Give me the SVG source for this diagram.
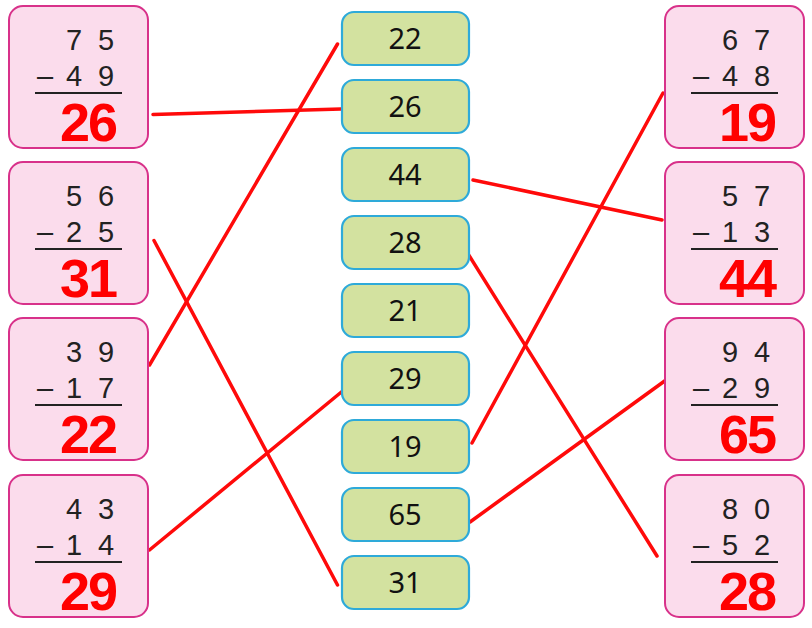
<svg xmlns="http://www.w3.org/2000/svg" width="812" height="628" viewBox="0 0 812 628">
<style>
.pb{fill:#fbdcec;stroke:#d8318a;stroke-width:2}
.gb{fill:#d3e2a0;stroke:#2eaad9;stroke-width:2.2}
.d{font-family:"Liberation Sans",Arial,sans-serif;font-size:29px;fill:#222;text-anchor:middle}
.a{font-family:"Liberation Sans",Arial,sans-serif;font-weight:bold;font-size:54px;fill:#ff0000;text-anchor:middle;letter-spacing:-2px}
.m{font-family:"Noto Sans","Liberation Sans",sans-serif;font-size:29px;fill:#111;text-anchor:middle}
.r{stroke:#222;stroke-width:2}
.c line{stroke:#ff0a0a;stroke-width:3.5;stroke-linecap:round}
</style>
<rect width="812" height="628" fill="#fff"/>
<g class="c" id="connectors">
<line x1="153" y1="114.5" x2="341" y2="109"/>
<line x1="154" y1="240.5" x2="337.5" y2="585"/>
<line x1="149.5" y1="365" x2="337.5" y2="44"/>
<line x1="149.5" y1="550" x2="342" y2="391.5"/>
<line x1="663" y1="93" x2="472" y2="443"/>
<line x1="473" y1="180" x2="662" y2="220"/>
<line x1="470" y1="522" x2="666" y2="380"/>
<line x1="460" y1="241" x2="657" y2="556"/>
</g>
<g id="L1"><rect class="pb" x="9" y="6" width="139" height="142" rx="14"/>
<text class="d" x="74" y="50">7</text><text class="d" x="106" y="50">5</text>
<text class="d" x="45" y="86">–</text><text class="d" x="74" y="86">4</text><text class="d" x="106" y="86">9</text>
<line class="r" x1="35" y1="93" x2="122" y2="93"/><text class="a" x="88" y="141">26</text></g>
<g id="L2"><rect class="pb" x="9" y="162" width="139" height="142" rx="14"/>
<text class="d" x="74" y="206">5</text><text class="d" x="106" y="206">6</text>
<text class="d" x="45" y="242">–</text><text class="d" x="74" y="242">2</text><text class="d" x="106" y="242">5</text>
<line class="r" x1="35" y1="249" x2="122" y2="249"/><text class="a" x="88" y="297">31</text></g>
<g id="L3"><rect class="pb" x="9" y="318" width="139" height="142" rx="14"/>
<text class="d" x="74" y="362">3</text><text class="d" x="106" y="362">9</text>
<text class="d" x="45" y="398">–</text><text class="d" x="74" y="398">1</text><text class="d" x="106" y="398">7</text>
<line class="r" x1="35" y1="405" x2="122" y2="405"/><text class="a" x="88" y="453">22</text></g>
<g id="L4"><rect class="pb" x="9" y="475" width="139" height="142" rx="14"/>
<text class="d" x="74" y="519">4</text><text class="d" x="106" y="519">3</text>
<text class="d" x="45" y="555">–</text><text class="d" x="74" y="555">1</text><text class="d" x="106" y="555">4</text>
<line class="r" x1="35" y1="562" x2="122" y2="562"/><text class="a" x="88" y="610">29</text></g>
<g id="R1"><rect class="pb" x="665" y="6" width="139" height="142" rx="14"/>
<text class="d" x="730" y="50">6</text><text class="d" x="762" y="50">7</text>
<text class="d" x="701" y="86">–</text><text class="d" x="730" y="86">4</text><text class="d" x="762" y="86">8</text>
<line class="r" x1="691" y1="93" x2="778" y2="93"/><text class="a" x="747" y="141">19</text></g>
<g id="R2"><rect class="pb" x="665" y="162" width="139" height="142" rx="14"/>
<text class="d" x="730" y="206">5</text><text class="d" x="762" y="206">7</text>
<text class="d" x="701" y="242">–</text><text class="d" x="730" y="242">1</text><text class="d" x="762" y="242">3</text>
<line class="r" x1="691" y1="249" x2="778" y2="249"/><text class="a" x="747" y="297">44</text></g>
<g id="R3"><rect class="pb" x="665" y="318" width="139" height="142" rx="14"/>
<text class="d" x="730" y="362">9</text><text class="d" x="762" y="362">4</text>
<text class="d" x="701" y="398">–</text><text class="d" x="730" y="398">2</text><text class="d" x="762" y="398">9</text>
<line class="r" x1="691" y1="405" x2="778" y2="405"/><text class="a" x="747" y="453">65</text></g>
<g id="R4"><rect class="pb" x="665" y="475" width="139" height="142" rx="14"/>
<text class="d" x="730" y="519">8</text><text class="d" x="762" y="519">0</text>
<text class="d" x="701" y="555">–</text><text class="d" x="730" y="555">5</text><text class="d" x="762" y="555">2</text>
<line class="r" x1="691" y1="562" x2="778" y2="562"/><text class="a" x="747" y="610">28</text></g>
<g id="M1"><rect class="gb" x="342" y="12" width="127" height="53" rx="12"/><text class="m" x="405" y="49">22</text></g>
<g id="M2"><rect class="gb" x="342" y="80" width="127" height="53" rx="12"/><text class="m" x="405" y="117">26</text></g>
<g id="M3"><rect class="gb" x="342" y="148" width="127" height="53" rx="12"/><text class="m" x="405" y="185">44</text></g>
<g id="M4"><rect class="gb" x="342" y="216" width="127" height="53" rx="12"/><text class="m" x="405" y="253">28</text></g>
<g id="M5"><rect class="gb" x="342" y="284" width="127" height="53" rx="12"/><text class="m" x="405" y="321">21</text></g>
<g id="M6"><rect class="gb" x="342" y="352" width="127" height="53" rx="12"/><text class="m" x="405" y="389">29</text></g>
<g id="M7"><rect class="gb" x="342" y="420" width="127" height="53" rx="12"/><text class="m" x="405" y="457">19</text></g>
<g id="M8"><rect class="gb" x="342" y="488" width="127" height="53" rx="12"/><text class="m" x="405" y="525">65</text></g>
<g id="M9"><rect class="gb" x="342" y="556" width="127" height="53" rx="12"/><text class="m" x="405" y="593">31</text></g>
</svg>
